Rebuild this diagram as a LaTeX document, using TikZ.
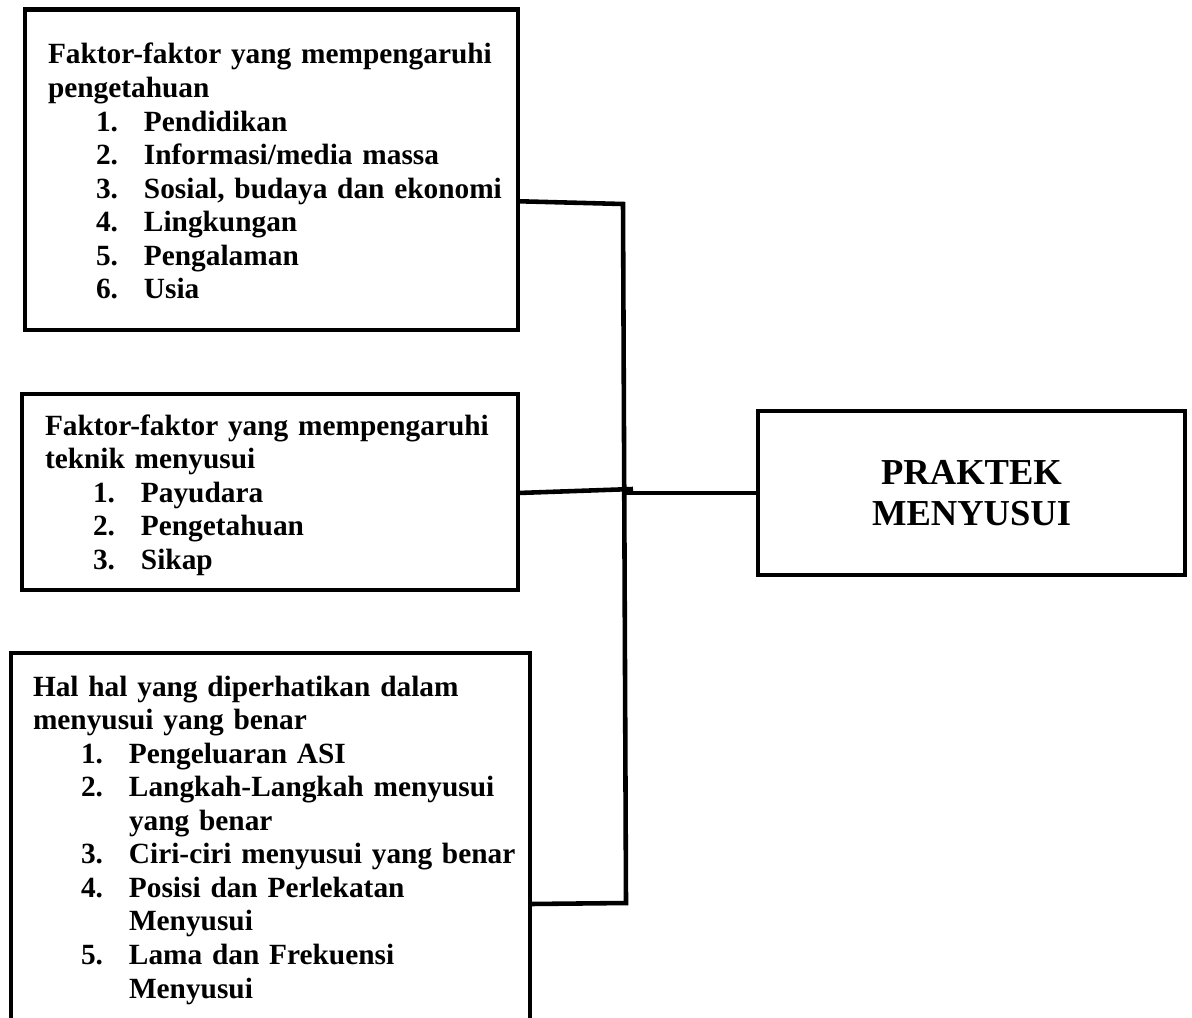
\documentclass[tikz,border=0pt]{standalone}
\usepackage{fontspec}
\setmainfont{Liberation Serif}
\usetikzlibrary{calc}

\newlength\pxu
\setlength\pxu{0.02cm}
\newcommand{\butir}[2]{\mbox{\hspace*{48\pxu}\makebox[48\pxu][l]{#1}#2}}
\newcommand{\lanjut}[1]{\mbox{\hspace*{96\pxu}#1}}

\begin{document}
\begin{tikzpicture}[x=0.02cm, y=-0.02cm,
    kotak/.style={draw, line width=2.6pt, rectangle, anchor=north west, outer sep=0pt,
      inner ysep=0pt, inner xsep=23\pxu, align=left,
      font=\fontsize{16.7}{19.1}\selectfont\bfseries},
    judul/.style={draw, line width=2.6pt, rectangle, outer sep=0pt, align=center,
      font=\fontsize{20.8}{23.3}\selectfont\bfseries},
    garis/.style={line width=2.6pt}]
  \clip (0,0) rectangle (1192,1017);

  % kotak kiri
  \node[kotak, text width=447\pxu, text height=54.5\pxu, text depth=266\pxu] (pengetahuan) at (25,9.5)
    {\mbox{Faktor-faktor yang mempengaruhi}\\ pengetahuan\\
     \butir{1.}{Pendidikan}\\ \butir{2.}{Informasi/media massa}\\
     \butir{3.}{Sosial, budaya dan ekonomi}\\ \butir{4.}{Lingkungan}\\
     \butir{5.}{Pengalaman}\\ \butir{6.}{Usia}};
  \node[kotak, text width=450\pxu, text height=41\pxu, text depth=155\pxu] (teknik) at (22,394)
    {\mbox{Faktor-faktor yang mempengaruhi}\\ teknik menyusui\\
     \butir{1.}{Payudara}\\ \butir{2.}{Pengetahuan}\\ \butir{3.}{Sikap}};
  \node[kotak, inner xsep=22\pxu, text width=475\pxu, text height=43\pxu, text depth=344\pxu] (menyusui) at (11,653)
    {\mbox{Hal hal yang diperhatikan dalam}\\ menyusui yang benar\\
     \butir{1.}{Pengeluaran ASI}\\ \butir{2.}{Langkah-Langkah menyusui}\\ \lanjut{yang benar}\\
     \butir{3.}{Ciri-ciri menyusui yang benar}\\ \butir{4.}{Posisi dan Perlekatan}\\ \lanjut{Menyusui}\\
     \butir{5.}{Lama dan Frekuensi}\\ \lanjut{Menyusui}};

  % kotak kanan
  \node[judul, minimum width=427\pxu, minimum height=164\pxu] (praktek) at (971.5,493) {PRAKTEK\\MENYUSUI};

  % penghubung
  \coordinate (atas) at (623,204);
  \coordinate (tengah) at (625,490);
  \coordinate (bawah) at (626,903);
  \draw[garis] ($(pengetahuan.east)+(0,31.5)$) -- (atas) -- (bawah) -- ($(menyusui.east)+(0,57.5)$);
  \draw[garis] ($(teknik.east)+(0,1)$) -- ($(tengah)+(8,-1)$);
  \draw[garis] (tengah |- praktek.west) -- (praktek.west);
\end{tikzpicture}
\end{document}
